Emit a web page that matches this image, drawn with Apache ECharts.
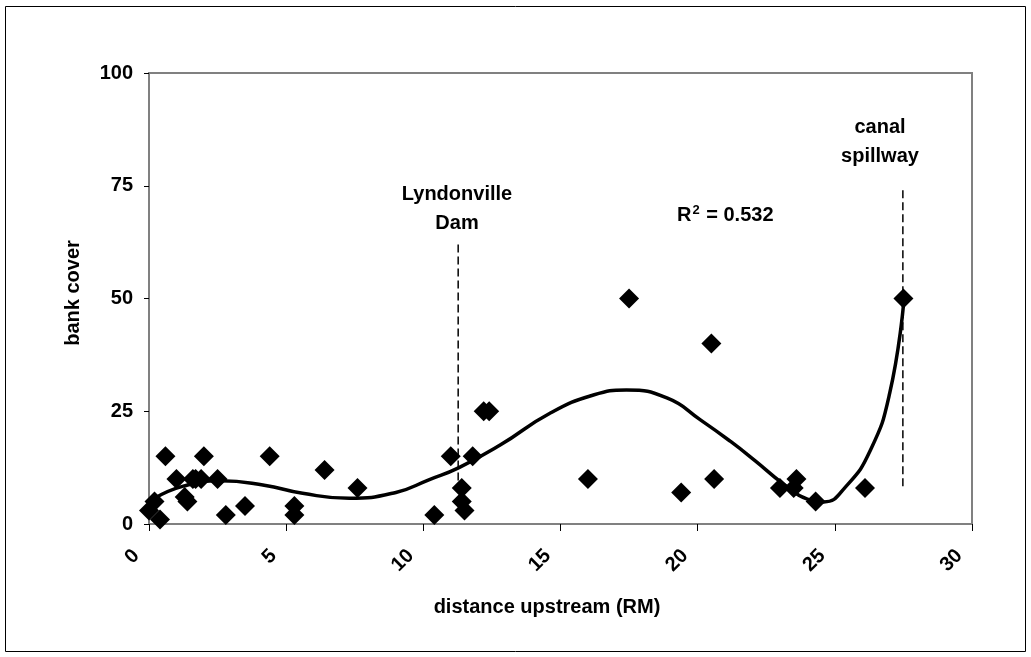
<!DOCTYPE html>
<html>
<head>
<meta charset="utf-8">
<script src="https://cdn.jsdelivr.net/npm/echarts@6/dist/echarts.min.js"></script>
<style>
  html, body { margin: 0; padding: 0; background: #fff; }
  #chart { width: 1031px; height: 657px; }
</style>
</head>
<body>
<div id="chart"></div>
<script>
// observed points: distance upstream (RM) vs bank cover
var distance = [0.0, 0.2, 0.4, 0.6, 1.0, 1.3, 1.4, 1.6, 1.7, 1.9, 2.0, 2.5, 2.8, 3.5, 4.4, 5.3, 5.3, 6.4, 7.6,
                10.4, 11.0, 11.4, 11.4, 11.5, 11.8, 12.2, 12.4, 16.0, 17.5, 19.4, 20.5, 20.6, 23.0, 23.5, 23.6, 24.3, 26.1, 27.5];
var cover = [3, 5, 1, 15, 10, 6, 5, 10, 10, 10, 15, 10, 2, 4, 15, 4, 2, 12, 8,
             2, 15, 8, 5, 3, 15, 25, 25, 10, 50, 7, 40, 10, 8, 8, 10, 5, 8, 50];

// trend line
var trendX = [0.2, 1.25, 2.6, 4.2, 5.6, 7.3, 9.0, 10.2, 11.3, 12.8, 14.6, 16.2, 17.4, 18.9, 20.1, 21.2, 22.1, 23.1, 24.0, 24.6, 25.4, 26.3, 27.0, 27.5];
var trendY = [5.7, 8.4, 9.6, 8.6, 6.8, 5.7, 7.0, 9.8, 12.5, 17.5, 24.5, 28.6, 29.7, 27.9, 23.1, 18.3, 14.0, 9.0, 5.5, 4.9, 8.3, 16.4, 29.0, 48.5];

// dashed markers
var damX = [11.27, 11.27];
var damY = [62, 8];
var spillX = [27.48, 27.48];
var spillY = [74, 8];

var xTicks = [0, 5, 10, 15, 20, 25, 30];
var yTicks = [0, 25, 50, 75, 100];

function pairs(xs, ys) {
    var out = [];
    for (var i = 0; i < xs.length; i++) out.push([xs[i], ys[i]]);
    return out;
}

var fontFam = '"Liberation Sans", Arial, sans-serif';
var boldFont = 'bold 20px ' + fontFam;

var myChart = echarts.init(document.getElementById('chart'));
var option = {
    animation: false,
    backgroundColor: '#fff',
    grid: {
        left: 149, top: 73, right: 59, bottom: 133,
        show: true, borderColor: '#808080', borderWidth: 2
    },
    xAxis: {
        type: 'value',
        min: xTicks[0], max: xTicks[xTicks.length - 1], interval: 5,
        axisLine: { lineStyle: { color: '#808080', width: 2 } },
        axisTick: { show: true, length: 7, lineStyle: { color: '#000', width: 1 } },
        axisLabel: {
            rotate: 45, margin: 16, padding: [0, 18, 0, 0],
            fontFamily: fontFam, fontWeight: 'bold', fontSize: 20, color: '#000'
        },
        splitLine: { show: false }
    },
    yAxis: {
        type: 'value',
        min: yTicks[0], max: yTicks[yTicks.length - 1], interval: 25,
        axisLine: { show: true, lineStyle: { color: '#808080', width: 2 } },
        axisTick: { show: true, length: 5, lineStyle: { color: '#000', width: 1 } },
        axisLabel: { margin: 16, fontFamily: fontFam, fontWeight: 'bold', fontSize: 20, color: '#000' },
        splitLine: { show: false }
    },
    series: [
        {
            type: 'line',
            data: pairs(trendX, trendY),
            smooth: 0.5,
            showSymbol: false,
            symbol: 'none',
            lineStyle: { color: '#000', width: 3.5 },
            z: 2
        },
        {
            type: 'line',
            data: pairs(damX, damY),
            showSymbol: false,
            symbol: 'none',
            lineStyle: { color: '#000', width: 1.5, type: [8, 4] },
            z: 1
        },
        {
            type: 'line',
            data: pairs(spillX, spillY),
            showSymbol: false,
            symbol: 'none',
            lineStyle: { color: '#000', width: 1.5, type: [8, 4] },
            z: 1
        },
        {
            type: 'scatter',
            data: pairs(distance, cover),
            symbol: 'diamond',
            symbolSize: 20,
            itemStyle: { color: '#000', opacity: 1 },
            z: 3
        }
    ],
    graphic: [
        {
            type: 'rect',
            shape: { x: 5.5, y: 6.5, width: 1020, height: 645 },
            style: { fill: 'none', stroke: '#000', lineWidth: 1 },
            z: 0
        },
        {
            type: 'text', x: 73, y: 293, rotation: Math.PI / 2,
            style: { text: 'bank cover', font: boldFont, fill: '#000', align: 'center', verticalAlign: 'middle' }
        },
        {
            type: 'text', x: 547, y: 607,
            style: { text: 'distance upstream (RM)', font: boldFont, fill: '#000', align: 'center', verticalAlign: 'middle' }
        },
        {
            type: 'text', x: 457, y: 209,
            style: { text: 'Lyndonville\nDam', font: boldFont, fill: '#000', align: 'center', verticalAlign: 'middle', lineHeight: 29 }
        },
        {
            type: 'text', x: 880, y: 142,
            style: { text: 'canal\nspillway', font: boldFont, fill: '#000', align: 'center', verticalAlign: 'middle', lineHeight: 29 }
        },
        {
            type: 'text', x: 677, y: 215,
            style: {
                text: 'R{sup|2} = 0.532',
                font: boldFont, fill: '#000', verticalAlign: 'middle',
                rich: { sup: { font: 'bold 13px ' + fontFam, fill: '#000', verticalAlign: 'top', padding: [0, 1, 10, 1] } }
            }
        }
    ]
};
myChart.setOption(option);
</script>
</body>
</html>
